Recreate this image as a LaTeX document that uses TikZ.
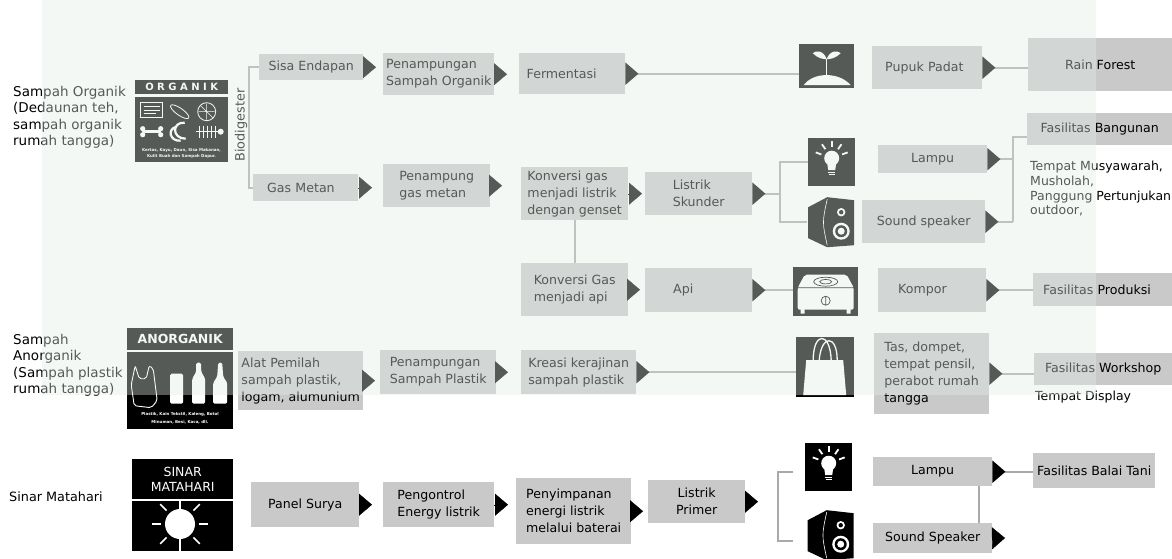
\documentclass[tikz,border=0pt]{standalone}
\usepackage{fontspec}
\setmainfont{DejaVu Sans}
\usetikzlibrary{arrows.meta}

\definecolor{boxgray}{HTML}{C9C9C9}
\definecolor{linkgray}{HTML}{A9A9A9}
\definecolor{wash}{HTML}{E2EDE6}

\tikzset{
  box/.style 2 args={fill=boxgray, anchor=north west, minimum width=#1, minimum height=#2,
    inner xsep=3pt, inner ysep=2pt, align=left, font=\fontsize{12.6}{17}\selectfont},
  tile/.style 2 args={fill=black, anchor=north west, minimum width=#1, minimum height=#2,
    inner sep=0pt, text=white, align=center},
  note/.style={anchor=north west, align=left, inner sep=0pt, font=\fontsize{13.5}{16.5}\selectfont},
  link/.style={draw=linkgray, line width=2pt},
  go/.style={-{Triangle[length=13pt, width=22pt]}, shorten >=#1},
  go/.default=0pt,
  feed/.style={link, {Triangle[length=13pt, width=22pt, reversed, color=black]}-},
  % ikon
  sprout/.pic={
    \fill[white] (-23,19) .. controls (-14,6) and (12,5) .. (24,19) -- cycle;
    \draw[white, line width=1.5] (0,9) -- (0,-7);
    \fill[white] (0,-7) .. controls (-3,-16) and (-11,-16) .. (-14,-13) .. controls (-9,-8) and (-4,-7) .. (0,-7);
    \fill[white] (0,-7) .. controls (3,-16) and (11,-16) .. (14,-13) .. controls (9,-8) and (4,-7) .. (0,-7);
  },
  bulb/.pic={
    \fill[white] (0,-4) circle (7.5);
    \fill[white] (-4.5,1) -- (4.5,1) -- (3.5,8) -- (-3.5,8) -- cycle;
    \draw[white, line width=1.3] (-3.5,10) -- (3.5,10) (-3,12.5) -- (3,12.5);
    \foreach \a in {-160,-125,-90,-55,-20}
      \draw[white, line width=1.8] (0,-4) ++(\a:11) -- ++(\a:6);
  },
  cabinet/.pic={
    \fill[black] (-23,-15) -- (-4,-25) -- (23,-22) -- (23,23) -- (-4,25) -- (-23,16) -- cycle;
    \draw[white, line width=.6] (-4,-23) .. controls (-9,0) .. (-4,23);
    \fill[white] (10,-10) circle (4.2);
    \fill[black] (10,-10) circle (2.2);
    \fill[white] (10,9) circle (8.5);
    \fill[black] (10,9) circle (6);
    \fill[white] (10,9) circle (3.5);
  },
  hob/.pic={
    \fill[white, rounded corners=2] (-21,-17) -- (21,-17) -- (28,-4) -- (28,18) -- (-28,18) -- (-28,-4) -- cycle;
    \draw[black, line width=.7] (-28,-4) -- (28,-4) (0,-10) ellipse (12 and 4.5) (0,-10) ellipse (6 and 2.2)
      (0,9) circle (4.5) (0,5) -- (0,13);
    \fill[white] (-25,17) rectangle (-21,22) (21,17) rectangle (25,22);
  },
  tote/.pic={
    \fill[white] (-19,-7) -- (18,-7) -- (21,28) -- (-22,28) -- cycle;
    \draw[white, line width=1.3] (-12,-7) .. controls (-12,-36) and (5,-36) .. (6,-7);
    \draw[white, line width=1.3] (-6,-7) .. controls (-4,-33) and (12,-33) .. (12,-7);
  },
  scraps/.pic={
    \draw[white, line width=.8] (-41,-27) rectangle (-19,-12);
    \draw[white, line width=.6] (-38,-23) -- (-22,-23) (-38,-19.5) -- (-22,-19.5) (-38,-16) -- (-26,-16);
    \draw[white, line width=.8, rotate around={-35:(-2,-18)}] (-2,-18) ellipse (11 and 3.5);
    \draw[white, line width=.8] (25,-18) circle (9);
    \draw[white, line width=.5] (17,-18) -- (33,-18) (25,-26) -- (25,-10) (19,-24) -- (31,-12);
    \draw[white, line width=3, line cap=round] (-38,2) -- (-22,2);
    \fill[white] (-39,-1) circle (2.6) (-39,5) circle (2.6) (-21,-1) circle (2.6) (-21,5) circle (2.6);
    \draw[white, line width=2.2] (3,-7) .. controls (-10,-8) and (-10,9) .. (4,9);
    \draw[white, line width=2.2] (-5,-3) .. controls (-15,-1) and (-12,12) .. (-1,11);
    \draw[white, line width=.9] (14,2) -- (38,2);
    \foreach \i in {18,22,...,34} \draw[white, line width=.7] (\i,-4) -- (\i,8);
    \fill[white] (39,2) circle (3);
  },
  waste/.pic={
    \draw[white, line width=.9, rounded corners=2] (-45,-25) -- (-41,-12) -- (-34,-12) -- (-31,-25) -- (-27,-22)
      -- (-23,10) -- (-29,17) -- (-46,15) -- (-49,-6) -- cycle;
    \fill[white, rounded corners=1.5] (-10,-17) rectangle (3,13);
    \fill[white, rounded corners=1.5] (12,13) -- (12,-12) -- (16,-19) -- (16,-28) -- (21,-28) -- (21,-19) -- (25,-12) -- (25,13) -- cycle;
    \fill[white, rounded corners=1.5] (33,13) -- (33,-8) -- (37,-14) -- (38,-28) -- (42,-28) -- (43,-14) -- (47,-8) -- (47,13) -- cycle;
  },
  sun/.pic={
    \draw[white, line width=1.5] (0,-23) -- (0,27);
    \fill[white] (0,0) circle (15);
    \foreach \a in {0,45,135,180,225,315}
      \draw[white, line width=1.6] (\a:19) -- (\a:28);
  },
}

\begin{document}
\begin{tikzpicture}[x=1pt, y=-1pt]
\path[use as bounding box, fill=white] (0,0) rectangle (1172,558);

% sampah organik
\node[note] (orgTxt) at (13,86) {Sampah Organik\\(Dedaunan teh,\\sampah organik\\rumah tangga)};
\node[tile={93}{14}, font=\bfseries\fontsize{10}{10}\selectfont] (orgHead) at (135,80) {O R G A N I K};
\node[tile={93}{65}] (orgBody) at (135,97) {};
\pic at (orgBody.center) {scraps};
\node[text=white, align=center, inner sep=0pt, font=\bfseries\fontsize{4}{6}\selectfont] (orgCap) at (181.5,153) {Kertas, Kayu, Daun, Sisa Makanan,\\Kulit Buah dan Sampah Dapur.};
\node[rotate=90, inner sep=0pt, font=\fontsize{12.8}{15}\selectfont] (bioTxt) at (241,125) {Biodigester};

\node[box={104}{26}] (sisa) at (259,54) {Sisa Endapan};
\node[box={111}{42}] (penOrg) at (383,53) {Penampungan\\Sampah Organik};
\node[box={106}{41}, text width=91pt] (ferm) at (519,53) {Fermentasi};
\node[box={105}{27}, text width=77pt] (gas) at (253,174) {Gas Metan};
\node[box={107}{43}] (penGas) at (383,164) {Penampung\\gas metan};
\node[box={107}{53}] (konv) at (521,167) {Konversi gas\\menjadi listrik\\dengan genset};
\node[box={107}{43}] (skunder) at (645,172) {Listrik\\Skunder};
\node[box={107}{53}] (konvApi) at (521,263) {Konversi Gas\\menjadi api};
\node[box={107}{44}, text width=51pt] (api) at (645,268) {Api};

\node[tile={55}{44}] (plant) at (799,44) {};
\node[tile={47}{48}] (lampA) at (808,138) {};
\node[tile={48}{50}, fill=none] (spkA) at (807,197) {};
\node[tile={65}{49}] (stoveIcon) at (793,267) {};
\pic at (plant.center) {sprout};
\pic at (lampA.center) {bulb};
\pic at (spkA.center) {cabinet};
\pic at (stoveIcon.center) {hob};

\node[box={110}{43}, text width=84pt] (pupuk) at (872,46) {Pupuk Padat};
\node[box={109}{28}] (lampuA) at (878,145) {Lampu};
\node[box={123}{43}] (sndA) at (862,200) {Sound speaker};
\node[box={108}{44}, text width=68pt] (kompor) at (878,268) {Kompor};
\node[box={144}{53}] (rain) at (1028,38) {Rain Forest};
\node[box={145}{32}] (bangunan) at (1027,113) {Fasilitas Bangunan};
\node[note, font=\fontsize{12.5}{14.7}\selectfont] (tempatTxt) at (1030,161) {Tempat Musyawarah,\\Musholah,\\Panggung Pertunjukan\\outdoor,};
\node[box={139}{33}, text width=119pt] (produksi) at (1033,273) {Fasilitas Produksi};

% sampah anorganik
\node[note] (anorTxt) at (13,334) {Sampah\\Anorganik\\(Sampah plastik\\rumah tangga)};
\node[tile={106}{22}, font=\bfseries\fontsize{12.5}{14}\selectfont] (anorHead) at (127,328) {ANORGANIK};
\node[tile={106}{77}] (anorBody) at (127,352) {};
\pic at (anorBody.center) {waste};
\node[text=white, align=center, inner sep=0pt, font=\bfseries\fontsize{4}{8}\selectfont] (anorCap) at (180,418) {Plastik, Kain Tekstil, Kaleng, Botol\\Minuman, Besi, Kaca, dll.};
\node[box={125}{59}] (alat) at (238,351) {Alat Pemilah\\sampah plastik,\\logam, alumunium};
\node[box={116}{44}] (penPl) at (380,350) {Penampungan\\Sampah Plastik};
\node[box={115}{44}] (kreasi) at (521,350) {Kreasi kerajinan\\sampah plastik};
\node[tile={58}{60}] (bag) at (796,337) {};
\pic at (bag.center) {tote};
\node[box={115}{81}] (tas) at (874,333) {Tas, dompet,\\tempat pensil,\\perabot rumah\\tangga};
\node[box={138}{32}] (workshop) at (1034,353) {Fasilitas Workshop};
\node[anchor=west, inner sep=0pt, font=\fontsize{12.5}{14}\selectfont] (displayTxt) at (1035,397) {Tempat Display};

% sinar matahari
\node[anchor=west, inner sep=0pt, font=\fontsize{12.8}{14}\selectfont] (sinarTxt) at (9,497) {Sinar Matahari};
\node[tile={101}{40}, font=\fontsize{12.5}{15}\selectfont] (sinarHead) at (132,459) {SINAR\\MATAHARI};
\node[tile={101}{50}] (sinarBody) at (132,501) {};
\pic at (180,524) {sun};
\node[box={108}{45}] (panel) at (251,482) {Panel Surya};
\node[box={111}{45}] (ctrl) at (383,482) {Pengontrol\\Energy listrik};
\node[box={115}{66}] (simpan) at (516,478) {Penyimpanan\\energi listrik\\melalui baterai};
\node[box={97}{43}, align=center] (primer) at (648,480) {Listrik\\Primer};
\node[tile={47}{48}] (lampB) at (805,443) {};
\node[tile={47}{50}, fill=none] (spkB) at (807,510) {};
\pic at (lampB.center) {bulb};
\pic at (spkB.center) {cabinet};
\node[box={119}{29}] (lampuB) at (873,457) {Lampu};
\node[box={119}{30}] (sndB) at (873,523) {Sound Speaker};
\node[box={122}{35}] (balai) at (1033,453) {Fasilitas Balai Tani};

\coordinate (bioBar) at (249,125);
\coordinate (skHub) at (780,193);
\coordinate (fasHub) at (1013,175);
\coordinate (primHub) at (778,506);
\coordinate (primTop) at (793,472);
\coordinate (primBot) at (793,541);
\coordinate (sndTip) at (1005,538);

\draw[link] (sisa.west) -| (bioBar) |- (gas.west);
\draw[link] (konv.south) -- (konvApi.north);
\draw[link] (lampA.west) -| (skHub) |- (spkA.west);
\draw[link] (sndA.east -| fasHub) |- ([yshift=-8pt]bangunan.west);
\draw[link] (primTop) -| (primHub) |- (primBot);
\draw[link] ([xshift=46pt]lampuB.south) -- ([xshift=46pt]sndB.north);

\draw[go=7pt] (sisa.east) -- (sisa.east -| penOrg.west);
\draw[go=12pt] (penOrg.east) -- (penOrg.east -| ferm.west);
\draw[go=11pt] (gas.east) -- (gas.east -| penGas.west);
\draw[go=19pt] (penGas.east) -- (penGas.east -| konv.west);
\draw[go=3pt] (konv.east) -- (konv.east -| skunder.west);
\draw[go=5pt] (konvApi.east) -- (konvApi.east -| api.west);
\draw[go=5pt] (alat.east) -- (alat.east -| penPl.west);
\draw[go=13pt] (penPl.east) -- (penPl.east -| kreasi.west);
\draw[go=11pt] (panel.east) -- (panel.east -| ctrl.west);
\draw[go=8pt] (ctrl.east) -- (ctrl.east -| simpan.west);
\draw[go=5pt] (simpan.east) -- (simpan.east -| primer.west);
\draw[go=20pt] (primer.east) -- (primer.east -| primHub);
\draw[go] (sndB.east) -- (sndTip);

\draw[feed] (ferm.east) -- (ferm.east -| plant.west);
\draw[feed] (pupuk.east) -- (pupuk.east -| rain.west);
\draw[feed] (skunder.east) -- (skunder.east -| skHub);
\draw[feed] (lampuA.east) -- (lampuA.east -| fasHub);
\draw[feed] (sndA.east) -- (sndA.east -| fasHub);
\draw[feed] (api.east) -- (api.east -| stoveIcon.west);
\draw[feed] (kompor.east) -- (kompor.east -| produksi.west);
\draw[feed] (kreasi.east) -- (kreasi.east -| bag.west);
\draw[feed] (tas.east) -- (tas.east -| workshop.west);
\draw[feed] (lampuB.east) -- (lampuB.east -| balai.west);

% lapisan pudar di bagian atas
\fill[wash, opacity=.38] (42,0) rectangle (1096,395);
\end{tikzpicture}
\end{document}
